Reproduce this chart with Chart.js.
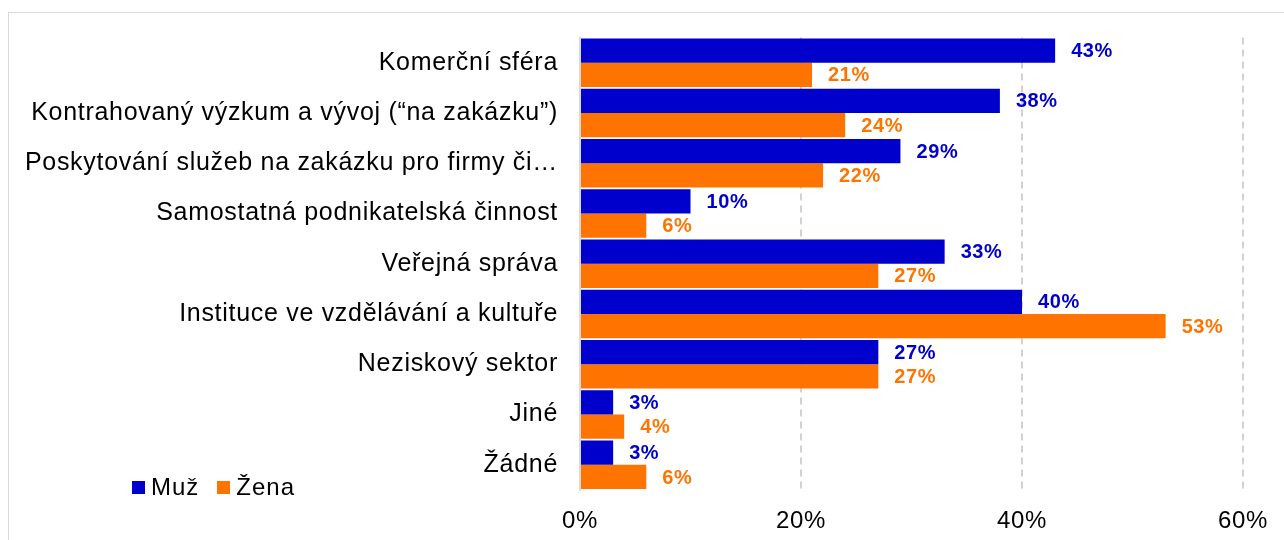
<!DOCTYPE html>
<html lang="cs">
<head>
<meta charset="utf-8">
<title>Muž / Žena – sektory</title>
<script src="https://cdn.jsdelivr.net/npm/chart.js@4/dist/chart.umd.min.js"></script>
<style>
  html, body { margin: 0; padding: 0; background: #fff; }
  body { width: 1284px; height: 540px; position: relative; overflow: hidden; font-family: "Liberation Sans", Arial, sans-serif; }
  .frame { position: absolute; left: 8px; top: 12px; width: 1400px; height: 700px; border: 1px solid #d9d9d9; }
  #wrap { position: absolute; left: 0; top: 0; width: 1284px; height: 540px; }
  .legend { position: absolute; left: 132px; top: 473px; display: flex; align-items: center; font-size: 24px; letter-spacing: 1px; color: #000; }
  .legend span.box { display: inline-block; width: 13px; height: 13px; margin-right: 6px; }
  .legend span.item { display: inline-flex; align-items: center; margin-right: 18px; }
</style>
</head>
<body>
<div class="frame"></div>
<div id="wrap"><canvas id="chart" width="1284" height="540"></canvas></div>
<div class="legend">
  <span class="item"><span class="box" style="background:#0000CC"></span>Muž</span>
  <span class="item"><span class="box" style="background:#FF7400"></span>Žena</span>
</div>
<script>
'use strict';

const categories = [
  'Komerční sféra',
  'Kontrahovaný výzkum a vývoj (“na zakázku”)',
  'Poskytování služeb na zakázku pro firmy či…',
  'Samostatná podnikatelská činnost',
  'Veřejná správa',
  'Instituce ve vzdělávání a kultuře',
  'Neziskový sektor',
  'Jiné',
  'Žádné',
];
const muz  = [43, 38, 29, 10, 33, 40, 27, 3, 3];
const zena = [21, 24, 22, 6, 27, 53, 27, 4, 6];
const xTicks = [0, 20, 40, 60];

const BLUE = '#0000CC';
const ORANGE = '#FF7400';
const FONT = '"Liberation Sans", Arial, sans-serif';

/* wide glyph look of the original */
const spacing = {
  id: 'spacing',
  beforeDraw(chart) { chart.ctx.letterSpacing = '0.7px'; },
};

/* value labels right of each bar */
const valueLabels = {
  id: 'valueLabels',
  afterDatasetsDraw(chart) {
    const ctx = chart.ctx;
    ctx.save();
    ctx.letterSpacing = '0.6px';
    ctx.font = 'bold 20px ' + FONT;
    ctx.textAlign = 'left';
    ctx.textBaseline = 'middle';
    chart.data.datasets.forEach((ds, i) => {
      chart.getDatasetMeta(i).data.forEach((bar, j) => {
        ctx.fillStyle = ds.backgroundColor;
        ctx.fillText(ds.data[j] + '%', bar.x + 16, bar.y + 1);
      });
    });
    ctx.restore();
  },
};

new Chart(document.getElementById('chart'), {
  type: 'bar',
  data: {
    labels: categories,
    datasets: [
      { label: 'Muž',  data: muz,  backgroundColor: BLUE,   barPercentage: 1, categoryPercentage: 0.965 },
      { label: 'Žena', data: zena, backgroundColor: ORANGE, barPercentage: 1, categoryPercentage: 0.965 },
    ],
  },
  options: {
    indexAxis: 'y',
    responsive: false,
    animation: false,
    layout: { padding: { top: 37.5, right: 32, left: 0, bottom: 0 } },
    plugins: { legend: { display: false }, tooltip: { enabled: false } },
    scales: {
      x: {
        min: 0, max: 60,
        afterBuildTicks: s => { s.ticks = xTicks.map(v => ({ value: v })); },
        afterFit: s => { s.height = 50; },
        grid: {
          color: c => c.tick && c.tick.value === 0 ? 'rgba(0,0,0,0)' : '#d2d2d2',
          lineWidth: 2,
          drawTicks: false,
        },
        border: { display: false, dash: [7, 5] },
        ticks: {
          padding: 17,
          color: '#000',
          font: { family: FONT, size: 24 },
          callback: v => v + '%',
        },
      },
      y: {
        afterFit: s => { s.width = 580; },
        grid: { display: false, drawTicks: false },
        border: { display: true, color: '#d9d9d9', width: 2 },
        ticks: {
          padding: 22,
          color: '#000',
          font: { family: FONT, size: 25 },
          autoSkip: false,
        },
      },
    },
  },
  plugins: [spacing, valueLabels],
});
</script>
</body>
</html>
